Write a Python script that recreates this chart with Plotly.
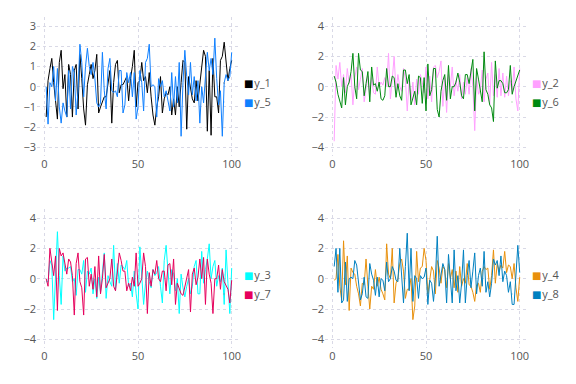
import plotly.graph_objects as go

x = list(range(1, 101))

y_1 = [-1.5, 0.3, 0.9, 1.4, 0.2, -0.8, -1.6, 1.2, 1.8, -0.1,
       0.6, -1.5, 1.1, 0.6, -1.5, 0.8, 1.1, -1.1, 1.6, 0.4,
       -1.1, -1.9, 0.1, 0.6, 1.1, 0.4, 0.8, 1.6, -1.3, -1.0,
       -0.7, -0.5, -0.5, 0.3, 0.8, -1.8, 0.2, 1.1, 1.3, -0.3,
       0.1, 0.1, 0.3, 0.5, -0.7, 0.4, 1.0, 1.8, -1.0, 0.2,
       0.3, 1.2, 0.3, 0.5, -0.3, 0.7, -0.5, -1.4, -1.9, -1.0,
       -0.5, 0.5, -1.3, -0.6, -0.3, -0.4, 0.0, -1.4, -0.6, -1.4,
       0.0, -1.0, 0.2, 1.3, 1.2, -2.1, 0.5, 0.0, -0.6, -0.8,
       0.3, -0.7, 0.2, 1.0, 1.8, 1.5, -2.2, 0.8, -2.4, 1.4,
       -0.5, -0.5, -1.3, 1.3, 1.5, 2.2, 1.2, 0.3, 0.9, 1.3]

y_5 = [0.0, -1.85, 0.2, 0.0, 1.0, -0.7, 0.9, -1.0, -1.8, -0.8,
       -1.2, -1.5, 0.8, -1.1, 1.0, 0.7, -1.4, -0.2, 2.1, 1.2,
       -0.5, 1.0, 1.9, 1.0, 0.6, 1.2, 0.4, -0.8, -1.0, -0.8,
       1.7, -0.2, -1.1, 0.9, 1.4, -0.2, -0.3, -0.2, -0.5, 0.8,
       0.8, -1.3, -0.9, 0.7, 0.2, 0.7, -0.5, 0.7, -1.6, -1.0,
       0.8, 0.2, -1.2, 1.2, 1.4, 2.1, 0.0, 0.1, 0.0, -1.5,
       0.4, 0.0, 0.3, -0.5, -0.2, -0.8, -1.2, 0.7, -1.0, 0.5,
       -0.8, 1.2, -2.45, 0.2, 1.8, 0.5, -0.4, 1.2, -0.4, 0.5,
       -0.7, 0.3, -1.8, 0.0, -0.8, 0.5, 1.7, 0.8, 1.4, 0.6,
       2.4, 0.4, -0.9, -0.2, -2.45, 0.2, 0.6, 0.3, 0.5, 1.7]

y_2 = [-3.6, 1.4, 0.5, 1.6, 0.0, 0.8, -0.4, 1.2, 0.2, 0.8,
       -1.2, 0.6, 1.3, -0.2, 0.5, 1.2, -1.0, 0.0, 0.7, -0.5,
       0.6, -0.4, -0.5, 1.3, 0.0, 0.3, 0.1, 0.6, 0.0, 2.2,
       -0.8, 0.5, 2.0, -0.3, 0.8, 0.0, -0.3, 1.2, 0.5, -1.6,
       0.4, -0.9, 0.3, -1.2, 0.5, -0.5, 0.8, 0.3, -0.4, 1.3,
       -0.8, 0.7, -1.0, 1.3, 1.4, 0.6, 1.0, 1.7, -1.3, 0.6,
       -1.7, 0.8, 0.0, 1.3, -0.6, 0.4, -0.3, 0.8, -0.8, 0.3,
       -0.5, 0.6, -0.5, 1.2, 0.0, -2.9, 0.6, -0.5, -0.2, 1.1,
       -1.0, 0.5, 0.9, -1.2, 1.6, -0.6, 0.8, -0.7, 1.2, -0.6,
       0.9, -0.7, 0.7, -0.6, 0.4, -0.4, 1.3, -0.8, -1.6, 1.2]

y_6 = [0.7, 0.3, -0.5, -0.9, -1.4, 0.6, -1.2, 0.0, 0.3, 1.0,
       2.2, 0.0, -0.8, 2.2, 1.1, 1.0, -0.6, 0.2, 1.0, -1.0,
       1.3, 0.1, 0.2, -0.3, 0.3, -0.8, -0.9, -0.6, 1.2, 0.0,
       0.0, 0.7, 0.6, -0.7, 0.2, -0.6, -0.9, 1.1, 1.1, 0.2,
       0.8, -1.2, -0.8, -0.3, -1.2, 0.7, 0.6, -1.1, 0.6, -1.6,
       1.5, -0.6, -0.2, 1.2, 1.2, -1.5, -2.0, -0.3, 0.4, 0.8,
       -0.9, 1.4, -0.8, 0.0, 0.0, 0.3, 0.9, 0.3, -0.6, -0.8,
       0.8, 0.8, 0.2, 0.9, 1.8, -1.6, 1.2, 0.5, -0.2, -1.0,
       2.3, -0.2, -0.5, -1.2, -1.4, -2.3, 1.7, -0.1, 0.4, 0.4,
       0.2, -0.4, -0.4, -0.2, 1.4, -0.5, 0.0, 0.4, 0.8, 1.1]

y_3 = [-0.2, -0.2, 1.2, 0.9, -2.7, 0.8, 3.1, 0.2, -1.7, 1.5,
       0.5, 0.7, 0.7, 0.8, -0.2, 0.0, -1.1, 0.6, 0.6, 0.3,
       1.2, -0.9, 0.5, 0.3, 0.7, -1.0, 0.0, -1.3, 0.1, -0.9,
       0.4, 1.7, -1.3, 0.2, -0.2, -0.5, 2.2, -0.8, 1.0, -0.3,
       0.9, 0.8, 0.6, 1.2, -0.5, -0.3, -1.2, 0.5, -1.0, -2.0,
       2.1, 0.3, -1.7, -0.3, 0.5, -0.2, -0.6, 0.6, 0.2, 0.4,
       0.8, -0.5, -1.6, 1.2, 2.2, 0.5, -1.0, 0.6, 0.3, -0.8,
       0.0, -2.3, 0.3, -0.6, -1.2, -0.5, 0.0, -1.0, -0.5, 0.8,
       1.2, -1.0, -1.0, 1.8, -0.3, 0.6, 1.3, 2.3, 0.0, 0.8,
       1.2, -0.5, 0.2, -0.2, 0.7, -1.7, 1.9, -0.3, -2.3, 0.7]

y_7 = [0.0, -0.5, 2.0, 1.2, 0.2, 1.5, -2.1, 2.0, 1.5, 1.7,
       1.0, 0.3, 1.3, 1.1, 0.2, -2.4, 1.0, 1.7, -0.2, -0.6,
       -2.4, 1.3, 1.4, -0.5, 0.3, -0.7, 0.8, -1.2, 1.5, -1.0,
       0.0, 1.6, -0.6, -0.3, 0.0, 1.3, -0.5, -0.8, 0.4, 1.7,
       1.2, 0.5, 0.5, -0.8, -0.3, -0.8, 0.1, -0.5, 1.7, -0.5,
       -0.3, 0.0, 1.7, 0.8, -2.3, 0.4, -0.5, 0.6, 0.3, 1.2,
       0.0, -0.2, 0.5, 0.5, -0.8, 0.9, 1.0, -0.4, 1.3, -1.7,
       -0.3, -0.7, -1.0, -1.1, -0.5, 0.0, 0.6, -2.2, 0.3, 0.7,
       -0.4, 0.1, 1.3, 0.0, 1.4, -1.7, 1.3, 0.3, -0.3, -2.3,
       0.0, 0.0, 0.9, -0.7, 0.6, -0.2, -0.5, -0.7, -1.6, -0.1]

y_4 = [-0.1, 0.0, 1.6, -0.5, -1.4, 2.5, -0.4, 1.5, -2.1, 0.7,
       0.4, 0.3, -0.5, -1.0, -1.8, -0.3, -0.4, 1.3, -0.5, -2.0,
       -0.5, -0.7, 0.6, -0.5, 0.1, -0.7, -1.0, -1.4, 2.3, 0.3,
       0.0, 2.0, -1.6, -0.3, 0.0, 1.0, 1.3, 0.5, -1.3, -0.7,
       -0.7, 0.0, -2.7, -1.8, 1.8, -0.2, 0.7, 0.8, 2.0, 1.2,
       -1.0, 0.0, 0.8, 0.5, -1.0, 1.2, 0.7, -0.3, 0.8, 0.6,
       -0.6, 1.0, 0.0, 0.6, -0.6, 0.5, -0.9, 0.8, -0.5, 0.0,
       -0.3, 1.0, -0.4, -0.5, -0.9, -1.5, -0.4, -0.3, -0.9, 0.5,
       0.8, 0.6, 0.7, -0.7, 0.2, 1.9, -0.3, 1.0, 0.5, 0.9,
       0.7, 1.8, 0.4, 0.9, 0.8, 0.0, 1.0, -0.6, -1.5, 0.1]

y_8 = [0.8, 2.0, -0.9, 2.0, -1.6, -1.4, 1.1, -1.5, 0.0, 0.1,
       0.0, 1.2, 0.9, -0.3, -1.4, -1.0, 0.1, -1.2, -1.3, 1.0,
       0.3, -0.1, -1.1, 0.1, -1.2, 0.0, -0.1, -0.8, 1.1, -0.2,
       0.0, 0.8, 0.5, -0.1, -0.2, 2.0, 0.0, -1.6, 0.8, 3.0,
       -0.8, 2.0, -1.5, 0.2, 0.0, -1.3, 0.2, 0.0, 0.1, 0.7,
       -1.7, -0.1, -0.3, -1.5, 0.0, 2.8, -0.5, 0.3, 1.0, 0.6,
       -1.6, 1.6, -0.4, -1.6, 1.9, -0.8, 0.2, -1.6, -0.3, 1.9,
       -1.6, 0.2, 1.2, -0.6, 0.5, 1.7, -1.0, 0.2, 0.7, -0.5,
       1.8, -0.9, -0.2, -1.2, -0.3, 1.3, 0.9, 1.2, 0.2, 1.5,
       -0.2, 0.5, 0.2, -0.9, -0.2, -1.7, -1.7, 0.0, 2.2, 0.4]

names = ["y_1", "y_2", "y_3", "y_4", "y_5", "y_6", "y_7", "y_8"]
colors = ["#000000", "#ffa0ff", "#00ffff", "#e8900c",
          "#0f80ff", "#008a10", "#e6005c", "#0080c0"]

panels = [
    (1, [(y_1, 0), (y_5, 4)], [-3, -2, -1, 0, 1, 2, 3], [-3.40, 3.47]),
    (2, [(y_2, 1), (y_6, 5)], [-4, -2, 0, 2, 4], [-4.54, 4.63]),
    (3, [(y_3, 2), (y_7, 6)], [-4, -2, 0, 2, 4], [-4.54, 4.63]),
    (4, [(y_4, 3), (y_8, 7)], [-4, -2, 0, 2, 4], [-4.54, 4.63]),
]

W, H = 576, 384
OFF = 8  # page body margin
xdoms = {1: (37, 239), 2: (325, 527), 3: (37, 239), 4: (325, 527)}
ydoms = {1: (16.5, 155.5), 2: (16.5, 155.5), 3: (208.5, 347.5), 4: (208.5, 347.5)}

fig = go.Figure()
font_fam = "Open Sans, DejaVu Sans, sans-serif"
grid_col = "#d9d9e6"
tick_col = "#555555"

layout = dict(
    width=W, height=H, margin=dict(l=0, r=0, t=0, b=0, autoexpand=False),
    paper_bgcolor="white", plot_bgcolor="white",
    font=dict(family=font_fam, size=11, color=tick_col),
    showlegend=True,
)

for idx, series, yt, yr in panels:
    sfx = "" if idx == 1 else str(idx)
    xa, ya = "x" + sfx, "y" + sfx
    leg = "legend" + sfx
    for ys, ci in series:
        fig.add_trace(go.Scatter(x=x, y=ys, mode="lines", name=names[ci],
                                 line=dict(color=colors[ci], width=1),
                                 xaxis=xa, yaxis=ya, legend=leg, showlegend=False,
                                 hoverinfo="skip"))
    for ys, ci in series:
        label = ('<span style="color:%s;font-family:DejaVu Sans;font-size:10px">■</span>'
                 '<span style="font-size:3px"> </span>%s' % (colors[ci], names[ci]))
        fig.add_trace(go.Scatter(x=[None], y=[None], mode="markers", name=label,
                                 marker=dict(color=colors[ci], opacity=0, size=1),
                                 xaxis=xa, yaxis=ya, legend=leg, showlegend=True))
    x0, x1 = xdoms[idx]
    y0, y1 = ydoms[idx]
    x0, x1, y0, y1 = x0 - OFF, x1 - OFF, y0 - OFF, y1 - OFF
    layout["xaxis" + sfx] = dict(
        domain=[x0 / W, x1 / W], range=[-3.9, 103.9],
        tickvals=[0, 50, 100], showgrid=True, gridcolor=grid_col, griddash="dot",
        gridwidth=1, zeroline=False, showline=False, ticks="",
        tickfont=dict(size=11, color=tick_col), anchor=ya, automargin=False,
    )
    layout["yaxis" + sfx] = dict(
        domain=[1 - y1 / H, 1 - y0 / H], range=yr,
        tickvals=yt, showgrid=True, gridcolor=grid_col, griddash="dot",
        gridwidth=1, zeroline=False, showline=False, ticks="",
        tickfont=dict(size=11, color=tick_col), anchor=xa, automargin=False,
    )
    ly = 84.5 if idx <= 2 else 84.5 + 192
    layout[leg] = dict(
        x=(x0 + 167) / W, y=1 - ly / H,
        xanchor="left", yanchor="middle",
        bgcolor="rgba(0,0,0,0)", borderwidth=0, itemwidth=30,
        font=dict(size=11, color=tick_col), tracegroupgap=0,
    )

fig.update_layout(**layout)
fig.write_html("out.html")
